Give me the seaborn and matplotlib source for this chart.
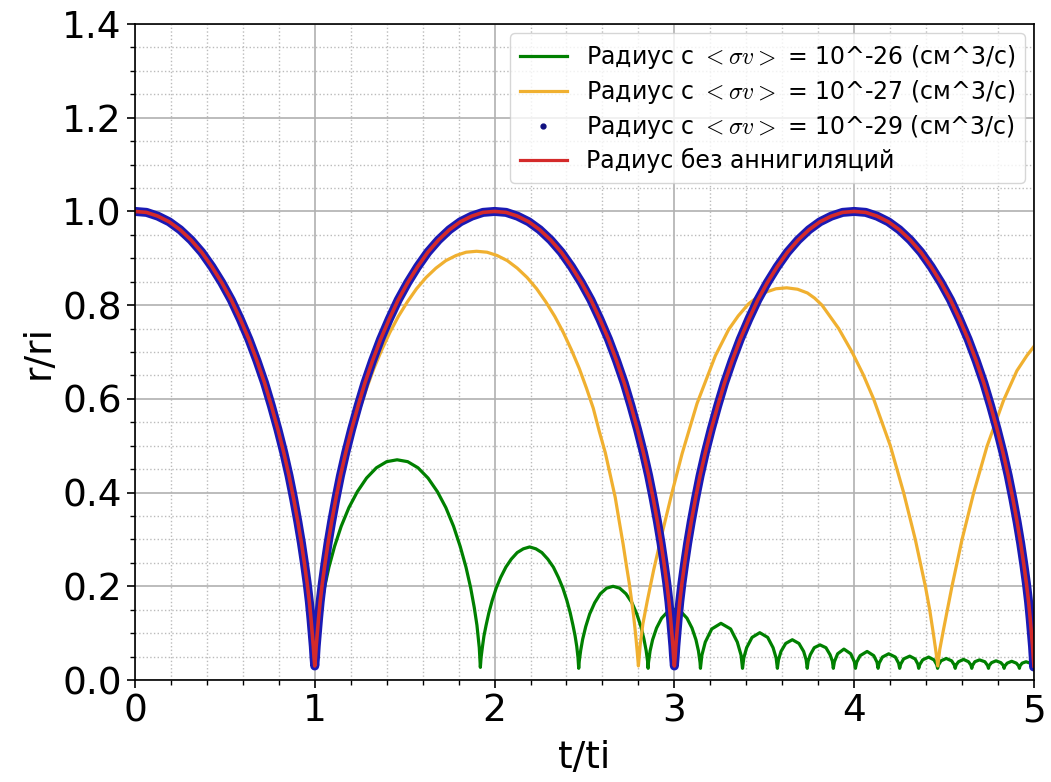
import matplotlib
matplotlib.use('Agg')
import matplotlib.pyplot as plt
import seaborn as sns
import pandas as pd
from matplotlib.lines import Line2D
from matplotlib.ticker import MultipleLocator

# values (t/ti -> r/ri)

# first fall 0 -> 1, shared by all four curves
t_fall = [0.0, 0.064, 0.127, 0.190, 0.251, 0.312, 0.371, 0.428, 0.483, 0.536, 0.586, 0.634, 0.679, 0.721,
          0.759, 0.795, 0.828, 0.857, 0.883, 0.906, 0.926, 0.943, 0.958, 0.970, 0.979, 0.986, 0.992, 0.996, 1.0]
r_fall = [1.0, 0.998, 0.990, 0.978, 0.961, 0.939, 0.913, 0.882, 0.848, 0.811, 0.770, 0.727, 0.681, 0.634,
          0.585, 0.535, 0.485, 0.436, 0.386, 0.338, 0.292, 0.248, 0.206, 0.167, 0.131, 0.099, 0.072, 0.048, 0.03]

# radius without annihilation, after the first fall
t_free = t_fall + [
    1.004, 1.008, 1.014, 1.021, 1.030, 1.042, 1.057, 1.074, 1.094, 1.117, 1.143, 1.172, 1.205, 1.241,
    1.279, 1.321, 1.366, 1.414, 1.464, 1.517, 1.572, 1.629, 1.688, 1.749, 1.810, 1.873, 1.936, 2.0,
    2.064, 2.127, 2.190, 2.251, 2.312, 2.371, 2.428, 2.483, 2.536, 2.586, 2.634, 2.679, 2.721, 2.759,
    2.795, 2.828, 2.857, 2.883, 2.906, 2.926, 2.943, 2.958, 2.970, 2.979, 2.986, 2.992, 2.996, 3.0,
    3.004, 3.008, 3.014, 3.021, 3.030, 3.042, 3.057, 3.074, 3.094, 3.117, 3.143, 3.172, 3.205, 3.241,
    3.279, 3.321, 3.366, 3.414, 3.464, 3.517, 3.572, 3.629, 3.688, 3.749, 3.810, 3.873, 3.936, 4.0,
    4.064, 4.127, 4.190, 4.251, 4.312, 4.371, 4.428, 4.483, 4.536, 4.586, 4.634, 4.679, 4.721, 4.759,
    4.795, 4.828, 4.857, 4.883, 4.906, 4.926, 4.943, 4.958, 4.970, 4.979, 4.986, 4.992, 4.996, 5.0]
r_free = r_fall + [
    0.048, 0.072, 0.099, 0.131, 0.167, 0.206, 0.248, 0.292, 0.338, 0.386, 0.436, 0.485, 0.535, 0.585,
    0.634, 0.681, 0.727, 0.770, 0.811, 0.848, 0.882, 0.913, 0.939, 0.961, 0.978, 0.990, 0.998, 1.0,
    0.998, 0.990, 0.978, 0.961, 0.939, 0.913, 0.882, 0.848, 0.811, 0.770, 0.727, 0.681, 0.634, 0.585,
    0.535, 0.485, 0.436, 0.386, 0.338, 0.292, 0.248, 0.206, 0.167, 0.131, 0.099, 0.072, 0.048, 0.03,
    0.048, 0.072, 0.099, 0.131, 0.167, 0.206, 0.248, 0.292, 0.338, 0.386, 0.436, 0.485, 0.535, 0.585,
    0.634, 0.681, 0.727, 0.770, 0.811, 0.848, 0.882, 0.913, 0.939, 0.961, 0.978, 0.990, 0.998, 1.0,
    0.998, 0.990, 0.978, 0.961, 0.939, 0.913, 0.882, 0.848, 0.811, 0.770, 0.727, 0.681, 0.634, 0.585,
    0.535, 0.485, 0.436, 0.386, 0.338, 0.292, 0.248, 0.206, 0.167, 0.131, 0.099, 0.072, 0.048, 0.03]

# <sigma v> = 1e-29 lies on the curve without annihilation, with a small uptick at t = 5
t_29 = t_free[:-1] + [4.998, 5.0]
r_29 = r_free[:-1] + [0.028, 0.09]

# <sigma v> = 1e-27
t_27 = t_fall + [
    1.008, 1.021, 1.042, 1.074, 1.117, 1.155, 1.185, 1.217, 1.251, 1.289, 1.329, 1.373, 1.418, 1.465,
    1.515, 1.566, 1.619, 1.674, 1.729, 1.786, 1.842, 1.900,
    1.958, 2.014, 2.071, 2.126, 2.181, 2.234, 2.285, 2.335, 2.382, 2.427, 2.471, 2.511, 2.549, 2.583,
    2.616, 2.645, 2.671, 2.695, 2.715, 2.733, 2.749, 2.762, 2.773, 2.781, 2.787, 2.793, 2.800,
    2.810, 2.825, 2.850, 2.885, 2.930, 2.987, 3.043, 3.126, 3.228, 3.302, 3.355, 3.413, 3.465, 3.510,
    3.565, 3.625, 3.685, 3.740, 3.780, 3.821, 3.914, 3.988, 4.050, 4.108, 4.201, 4.275, 4.340, 4.396,
    4.420, 4.440, 4.455, 4.465,
    4.476, 4.498, 4.544, 4.600, 4.665, 4.739, 4.831, 4.905, 4.960, 5.000]
r_27 = r_fall + [
    0.072, 0.131, 0.206, 0.290, 0.380, 0.444, 0.490, 0.535, 0.580, 0.623, 0.665, 0.705, 0.742, 0.776,
    0.807, 0.835, 0.859, 0.879, 0.895, 0.906, 0.913, 0.915,
    0.913, 0.906, 0.895, 0.879, 0.859, 0.835, 0.807, 0.776, 0.742, 0.705, 0.665, 0.623, 0.580, 0.530,
    0.485, 0.435, 0.390, 0.335, 0.290, 0.245, 0.207, 0.170, 0.138, 0.110, 0.087, 0.062, 0.030,
    0.075, 0.120, 0.170, 0.235, 0.310, 0.400, 0.483, 0.590, 0.692, 0.748, 0.777, 0.803, 0.818, 0.828,
    0.835, 0.837, 0.834, 0.826, 0.815, 0.800, 0.750, 0.700, 0.652, 0.600, 0.500, 0.400, 0.300, 0.200,
    0.150, 0.100, 0.060, 0.030,
    0.065, 0.110, 0.200, 0.300, 0.400, 0.499, 0.597, 0.660, 0.692, 0.712]

# <sigma v> = 1e-26
t_26 = t_fall + [
    1.006, 1.019, 1.034, 1.054, 1.079, 1.110, 1.147, 1.190, 1.237, 1.288, 1.343, 1.400, 1.458,
    1.517, 1.574, 1.630, 1.682, 1.729, 1.772, 1.809, 1.841, 1.867, 1.887, 1.902, 1.915, 1.921,
    1.925, 1.933, 1.941, 1.953, 1.968, 1.987, 2.009, 2.034, 2.063, 2.093, 2.126, 2.160, 2.195,
    2.230, 2.263, 2.296, 2.327, 2.355, 2.380, 2.402, 2.421, 2.436, 2.448, 2.457, 2.464, 2.468,
    2.471, 2.479, 2.490, 2.507, 2.529, 2.557, 2.588, 2.623, 2.659,
    2.696, 2.731, 2.764, 2.791, 2.814, 2.831, 2.843, 2.851, 2.854,
    2.856, 2.865, 2.879, 2.901, 2.929, 2.963, 3.000, 3.036, 3.070, 3.098, 3.120, 3.134, 3.143, 3.145,
    3.153, 3.172, 3.208, 3.259, 3.313, 3.350, 3.371, 3.379,
    3.386, 3.402, 3.432, 3.475, 3.519, 3.549, 3.566, 3.573,
    3.579, 3.593, 3.619, 3.656, 3.693, 3.719, 3.733, 3.739,
    3.744, 3.756, 3.778, 3.810, 3.843, 3.866, 3.879, 3.884,
    3.890, 3.908, 3.943, 3.981, 4.001, 4.007,
    4.014, 4.033, 4.072, 4.109, 4.127, 4.133,
    4.139, 4.157, 4.192, 4.229, 4.247, 4.253,
    4.259, 4.275, 4.309, 4.339, 4.354, 4.359,
    4.365, 4.381, 4.414, 4.444, 4.459, 4.464,
    4.469, 4.483, 4.512, 4.542, 4.557, 4.562,
    4.567, 4.580, 4.608, 4.636, 4.649, 4.654,
    4.658, 4.671, 4.697, 4.727, 4.742, 4.747,
    4.751, 4.764, 4.789, 4.816, 4.830, 4.834,
    4.838, 4.851, 4.876, 4.902, 4.915, 4.919,
    4.922, 4.934, 4.956, 4.978, 4.989, 4.993, 5.0]
r_26 = r_fall + [
    0.069, 0.117, 0.155, 0.197, 0.241, 0.285, 0.328, 0.368, 0.402, 0.431, 0.453, 0.466, 0.470,
    0.466, 0.453, 0.431, 0.402, 0.368, 0.328, 0.285, 0.241, 0.197, 0.155, 0.117, 0.069, 0.027,
    0.048, 0.072, 0.094, 0.117, 0.143, 0.170, 0.196, 0.219, 0.241, 0.258, 0.272, 0.280, 0.284,
    0.280, 0.272, 0.258, 0.241, 0.219, 0.196, 0.170, 0.143, 0.117, 0.094, 0.072, 0.048, 0.025,
    0.040, 0.063, 0.087, 0.114, 0.141, 0.165, 0.184, 0.196, 0.200,
    0.196, 0.184, 0.165, 0.141, 0.114, 0.087, 0.063, 0.040, 0.025,
    0.037, 0.062, 0.086, 0.111, 0.132, 0.146, 0.151, 0.146, 0.132, 0.111, 0.086, 0.062, 0.037, 0.025,
    0.053, 0.081, 0.109, 0.121, 0.109, 0.081, 0.053, 0.025,
    0.047, 0.069, 0.091, 0.101, 0.091, 0.069, 0.047, 0.025,
    0.043, 0.061, 0.078, 0.086, 0.078, 0.061, 0.043, 0.025,
    0.040, 0.054, 0.069, 0.075, 0.069, 0.054, 0.040, 0.025,
    0.039, 0.056, 0.066, 0.056, 0.039, 0.025,
    0.038, 0.052, 0.061, 0.052, 0.038, 0.025,
    0.036, 0.049, 0.056, 0.049, 0.036, 0.025,
    0.034, 0.045, 0.051, 0.045, 0.034, 0.025,
    0.033, 0.043, 0.049, 0.043, 0.033, 0.025,
    0.032, 0.041, 0.046, 0.041, 0.032, 0.025,
    0.032, 0.039, 0.044, 0.039, 0.032, 0.025,
    0.031, 0.039, 0.043, 0.039, 0.031, 0.025,
    0.031, 0.037, 0.041, 0.037, 0.031, 0.025,
    0.030, 0.036, 0.040, 0.036, 0.030, 0.025,
    0.030, 0.036, 0.039, 0.036, 0.030, 0.025, 0.032]

labels = ['Радиус с $<\\sigma v>$ = 10^-26 (см^3/с)',
          'Радиус с $<\\sigma v>$ = 10^-27 (см^3/с)',
          'Радиус с $<\\sigma v>$ = 10^-29 (см^3/с)',
          'Радиус без аннигиляций']

plt.rcParams['mathtext.fontset'] = 'cm'

fig = plt.figure(figsize=(10.51, 7.82), dpi=100)
ax = fig.add_axes([0.1284, 0.1304, 0.8554, 0.8389])

df26 = pd.DataFrame({'t': t_26, 'r': r_26})
df27 = pd.DataFrame({'t': t_27, 'r': r_27})
df29 = pd.DataFrame({'t': t_29, 'r': r_29})
dffree = pd.DataFrame({'t': t_free, 'r': r_free})

sns.lineplot(data=df26, x='t', y='r', ax=ax, color='green', lw=2.3, sort=False, estimator=None)
sns.lineplot(data=df27, x='t', y='r', ax=ax, color='#f0b030', lw=2.3, sort=False, estimator=None)
sns.lineplot(data=df29, x='t', y='r', ax=ax, color='#1a1ab4', lw=6.5, sort=False, estimator=None,
             solid_capstyle='round', solid_joinstyle='round')
sns.lineplot(data=dffree, x='t', y='r', ax=ax, color='#d42a2a', lw=2.6, sort=False, estimator=None)

ax.set_xlim(0, 5)
ax.set_ylim(0, 1.4)
ax.xaxis.set_major_locator(MultipleLocator(1))
ax.xaxis.set_minor_locator(MultipleLocator(0.2))
ax.yaxis.set_major_locator(MultipleLocator(0.2))
ax.yaxis.set_minor_locator(MultipleLocator(0.05))
ax.grid(which='major', color='#b0b0b0', lw=1.2)
ax.grid(which='minor', color='#bbbbbb', ls=':', lw=1.0)
ax.set_axisbelow(True)
ax.tick_params(which='major', labelsize=27, length=6, width=1.2)
ax.tick_params(which='minor', length=3.5, width=1.0)
for s in ax.spines.values():
    s.set_color('black')
    s.set_linewidth(1.2)

ax.set_xlabel('t/ti', fontsize=27, labelpad=8)
ax.set_ylabel('r/ri', fontsize=27)

handles = [Line2D([], [], color='green', lw=2.3),
           Line2D([], [], color='#f0b030', lw=2.3),
           Line2D([], [], ls='', marker='.', color='#101080', ms=7),
           Line2D([], [], color='#d42a2a', lw=2.3)]
ax.legend(handles, labels, loc='upper right', fontsize=17, labelspacing=0.3, borderaxespad=0.4)

fig.savefig('out.png', dpi=100)
